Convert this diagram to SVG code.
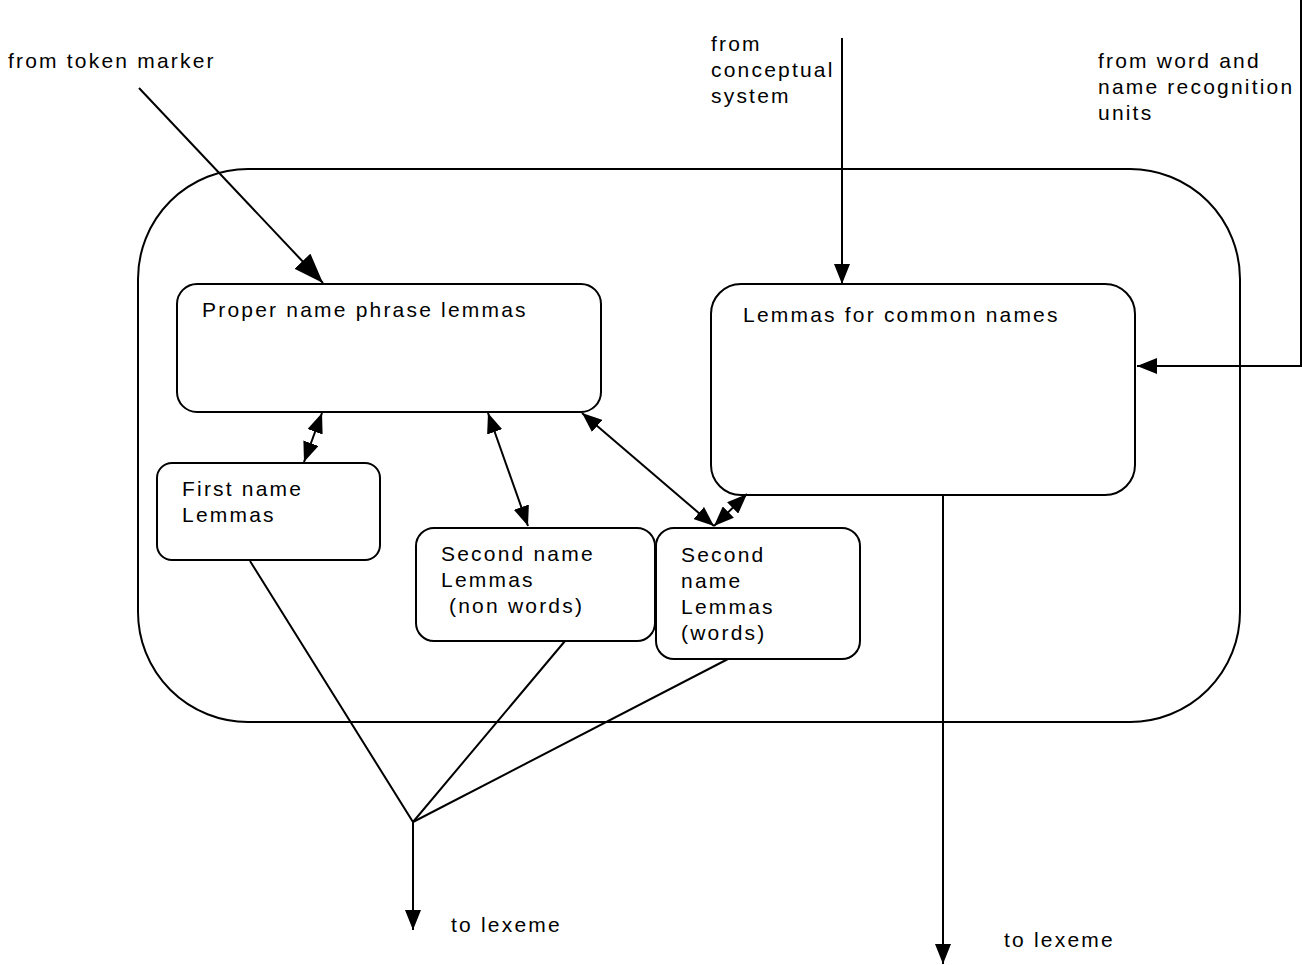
<svg xmlns="http://www.w3.org/2000/svg" width="1302" height="965" viewBox="0 0 1302 965">
  <style>
    .box { fill: none; stroke: #000; stroke-width: 2; }
    .wire { fill: none; stroke: #000; stroke-width: 2; }
    text { font-family: "Liberation Sans", Arial, sans-serif; font-size: 21px; letter-spacing: 2.2px; fill: #000; white-space: pre; }
  </style>
  <defs>
    <marker id="head" viewBox="0 0 20 16" refX="20" refY="8" markerWidth="20" markerHeight="16" markerUnits="userSpaceOnUse" orient="auto-start-reverse">
      <path d="M0,0 L20,8 L0,16 Z" fill="#000"/>
    </marker>
    <marker id="bighead" viewBox="0 0 30 22" refX="30" refY="11" markerWidth="30" markerHeight="22" markerUnits="userSpaceOnUse" orient="auto">
      <path d="M0,0 L30,11 L0,22 Z" fill="#000"/>
    </marker>
  </defs>
  <rect width="1302" height="965" fill="#fff"/>

  <!-- enclosing lemma system -->
  <g id="lemma-system">
    <rect class="box" x="138" y="169" width="1102" height="553" rx="110" ry="110"/>
  </g>

  <g id="proper-name">
    <rect class="box" x="177" y="284" width="424" height="128" rx="20" ry="20"/>
    <text x="202" y="317">Proper name phrase lemmas</text>
  </g>

  <g id="common-names">
    <rect class="box" x="711" y="284" width="424" height="211" rx="30" ry="30"/>
    <text x="743" y="322">Lemmas for common names</text>
  </g>

  <g id="first-name">
    <rect class="box" x="157" y="463" width="223" height="97" rx="15" ry="15"/>
    <text x="182" y="496">First name</text>
    <text x="182" y="522">Lemmas</text>
  </g>

  <g id="second-name-nonwords">
    <rect class="box" x="416" y="528" width="239" height="113" rx="18" ry="18"/>
    <text x="441" y="561">Second name</text>
    <text x="441" y="587">Lemmas</text>
    <text x="441" y="613"> (non words)</text>
  </g>

  <g id="second-name-words">
    <rect class="box" x="656" y="528" width="204" height="131" rx="18" ry="18"/>
    <text x="681" y="562">Second</text>
    <text x="681" y="588">name</text>
    <text x="681" y="614">Lemmas</text>
    <text x="681" y="640">(words)</text>
  </g>

  <!-- external labels -->
  <g id="labels">
    <text x="8" y="68">from token marker</text>
    <text x="711" y="51">from</text>
    <text x="711" y="77">conceptual</text>
    <text x="711" y="103">system</text>
    <text x="1098" y="68">from word and</text>
    <text x="1098" y="94">name recognition</text>
    <text x="1098" y="120">units</text>
    <text x="451" y="932">to lexeme</text>
    <text x="1004" y="947">to lexeme</text>
  </g>

  <g id="connectors">
    <line class="wire" x1="139" y1="88" x2="323" y2="283" marker-end="url(#bighead)"/>
    <line class="wire" x1="842" y1="38" x2="842" y2="284" marker-end="url(#head)"/>
    <polyline class="wire" points="1301,0 1301,366 1137,366" marker-end="url(#head)"/>

    <line class="wire" x1="322" y1="413" x2="304" y2="462" marker-start="url(#head)" marker-end="url(#head)"/>
    <line class="wire" x1="488" y1="413" x2="528" y2="526" marker-start="url(#head)" marker-end="url(#head)"/>
    <line class="wire" x1="582" y1="413" x2="714" y2="526" marker-start="url(#head)" marker-end="url(#head)"/>
    <line class="wire" x1="747" y1="494" x2="714" y2="526" marker-start="url(#head)" marker-end="url(#head)"/>

    <polyline class="wire" points="250,561 413,822 565,641"/>
    <line class="wire" x1="413" y1="822" x2="728" y2="659"/>
    <line class="wire" x1="413" y1="822" x2="413" y2="930" marker-end="url(#head)"/>
    <line class="wire" x1="943" y1="495" x2="943" y2="964" marker-end="url(#head)"/>
  </g>
</svg>
